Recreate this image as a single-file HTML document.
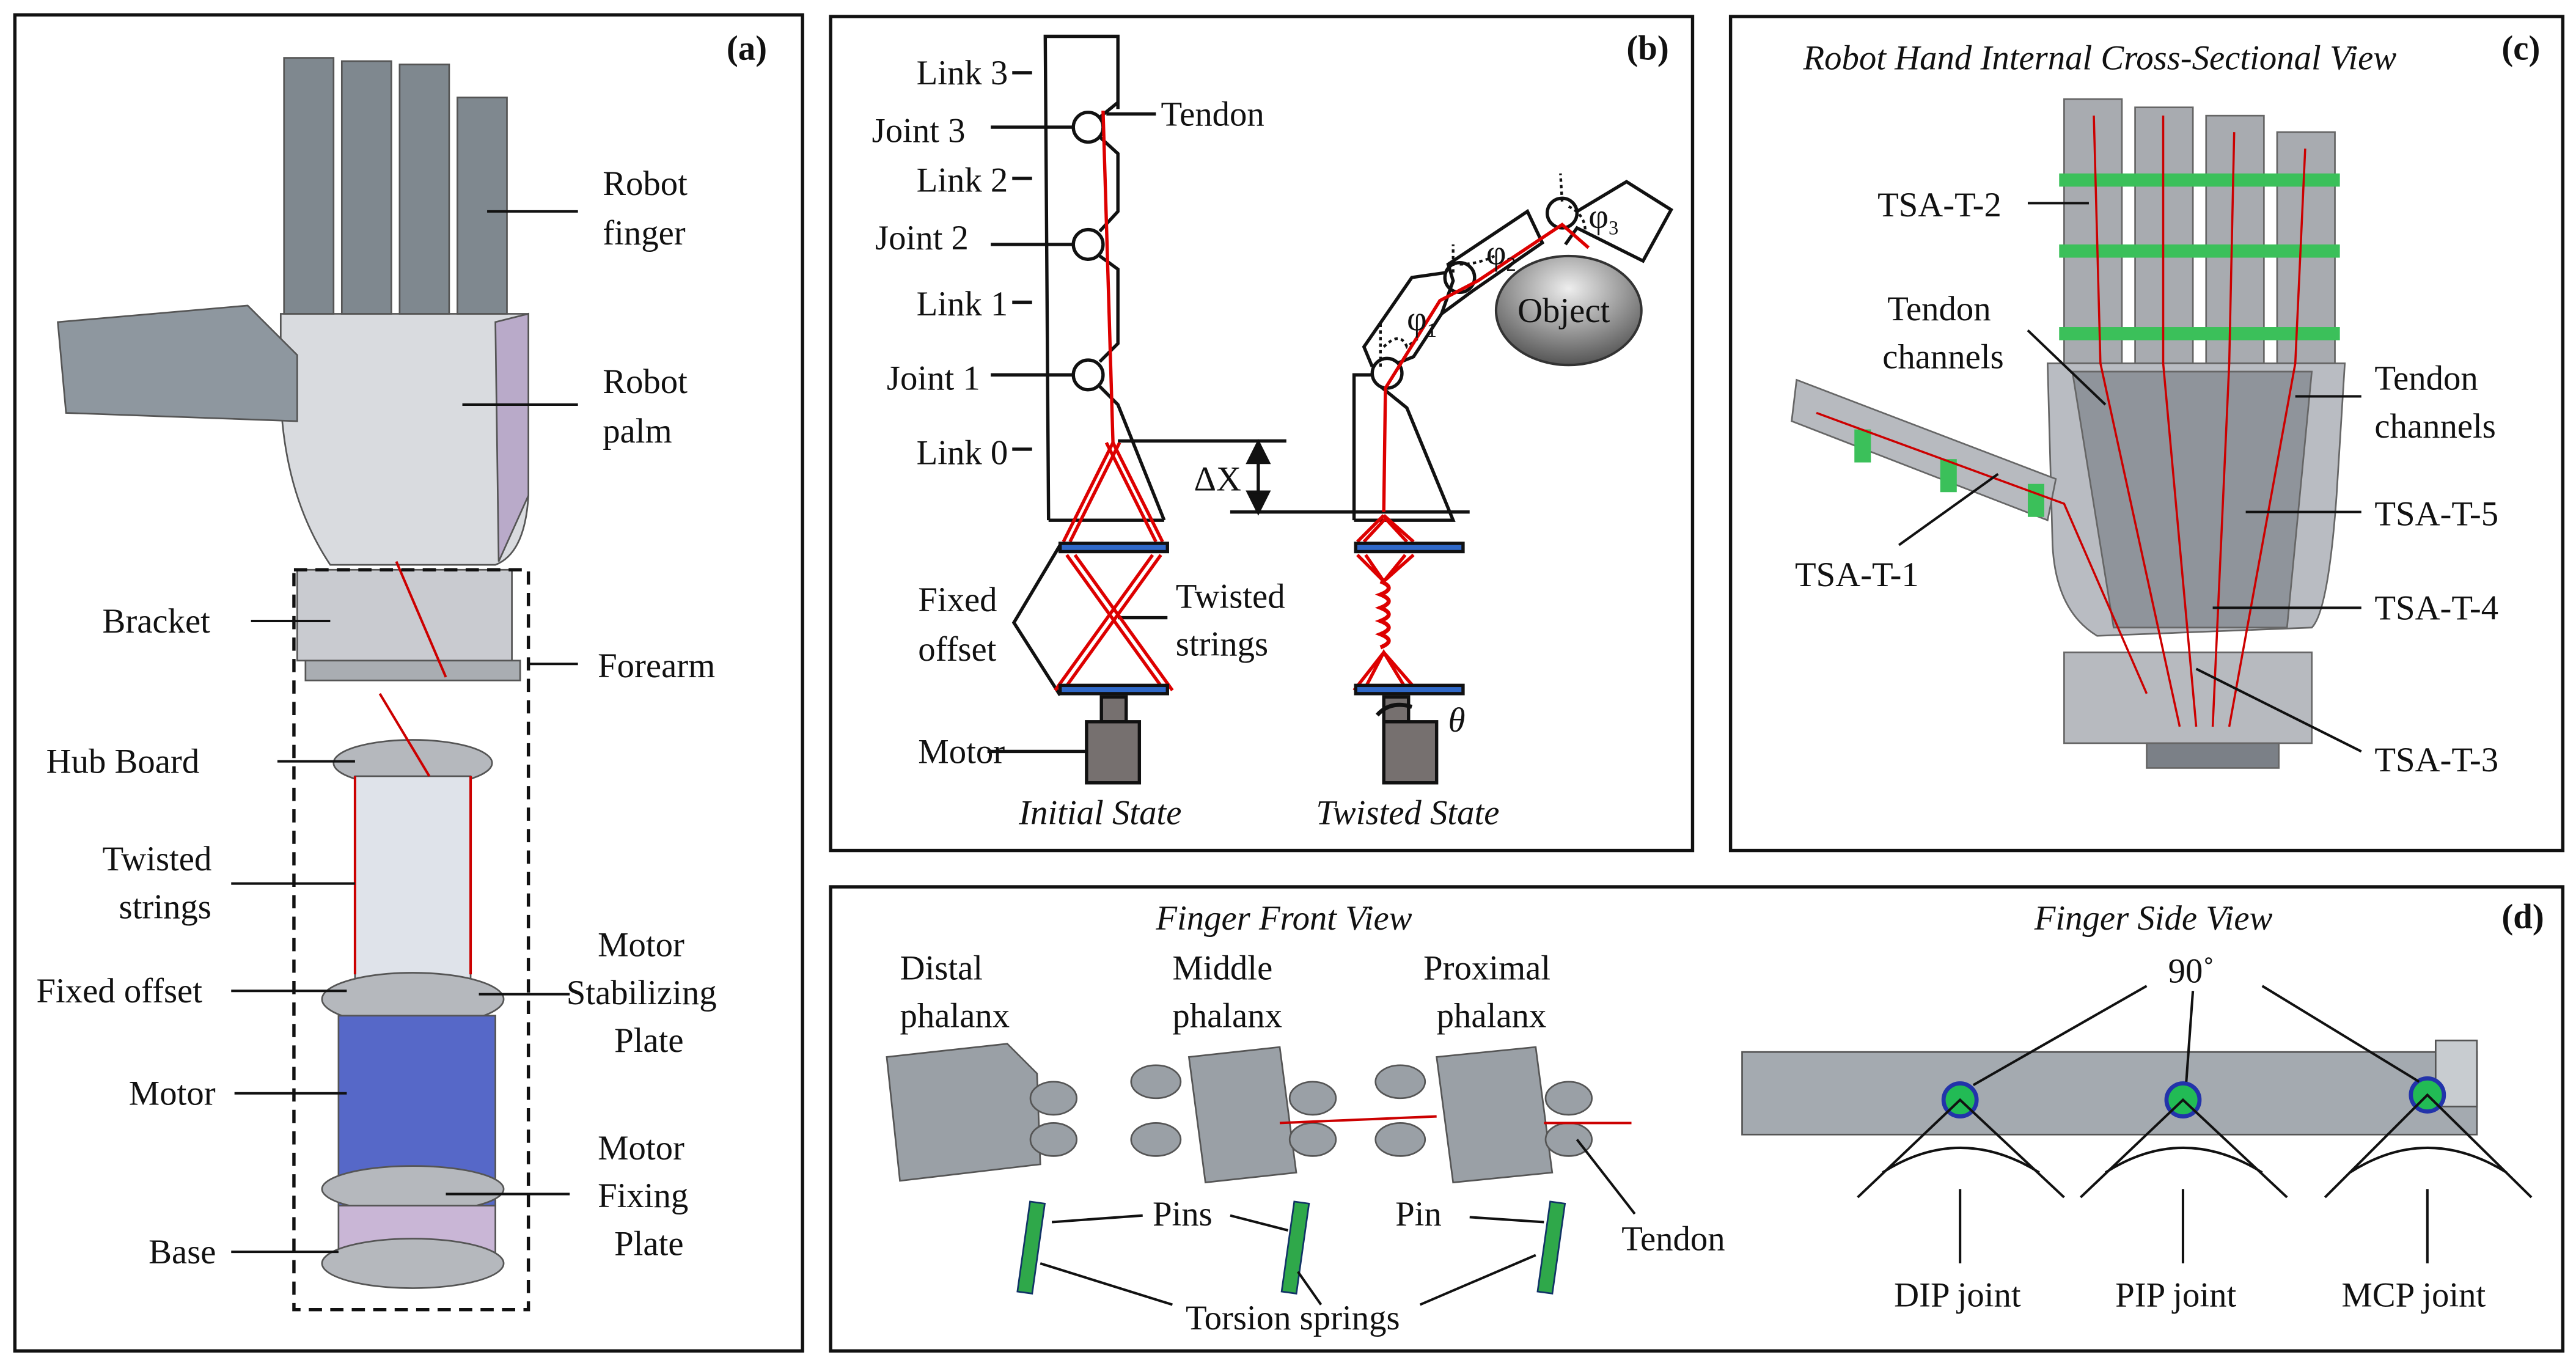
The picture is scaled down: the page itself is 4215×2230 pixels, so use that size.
<!DOCTYPE html>
<html><head><meta charset="utf-8"><style>
html,body{margin:0;padding:0;background:#fff;width:4215px;height:2230px;overflow:hidden}
svg{display:block}
svg text{font-family:"Liberation Serif","DejaVu Serif","Times New Roman",serif;font-size:21px;fill:#111}
.it{font-style:italic}
</style></head><body>
<svg width="4215" height="2230" viewBox="0 0 1560 825.3" xmlns="http://www.w3.org/2000/svg" font-family="Liberation Serif, DejaVu Serif, serif">
<rect width="1560" height="826" fill="#fff"/>
<g fill="none" stroke="#111" stroke-width="2">
<rect x="9" y="9" width="477" height="809"/>
<rect x="503" y="10" width="522" height="505"/>
<rect x="1048" y="10" width="504" height="505"/>
<rect x="503" y="537" width="1049" height="281"/>
</g>
<g font-weight="bold"><text x="440" y="36" font-family="Liberation Serif, serif">(a)</text><text x="985" y="36" font-family="Liberation Serif, serif">(b)</text><text x="1515" y="36" font-family="Liberation Serif, serif">(c)</text><text x="1515" y="562" font-family="Liberation Serif, serif">(d)</text></g>

<!-- (a) robot hand -->
<g stroke="#555" stroke-width="1">
<path d="M170 190 L320 190 L320 300 Q318 335 300 342 L200 342 Q172 300 170 240Z" fill="#d9dbdf"/>
<path d="M300 195 L320 190 L320 300 L302 340Z" fill="#b9aac9"/>
<path d="M35 195 L150 185 L180 215 L180 255 L40 250Z" fill="#8e979f"/>
<rect x="172" y="35" width="30" height="155" fill="#7f888f"/>
<rect x="207" y="37" width="30" height="153" fill="#7f888f"/>
<rect x="242" y="39" width="30" height="151" fill="#7f888f"/>
<rect x="277" y="59" width="30" height="131" fill="#7f888f"/>
<rect x="180" y="345" width="130" height="55" fill="#c9cbd0"/>
<rect x="185" y="400" width="130" height="12" fill="#a9adb2"/>
<ellipse cx="250" cy="462" rx="48" ry="14" fill="#b5b8bd"/>
<rect x="215" y="470" width="70" height="125" fill="#dfe3ea"/>
<ellipse cx="250" cy="605" rx="55" ry="16" fill="#b5b8bd"/>
<rect x="205" y="615" width="95" height="115" fill="#5668c8"/>
<ellipse cx="250" cy="720" rx="55" ry="14" fill="#b5b8bd"/>
<rect x="205" y="730" width="95" height="30" fill="#c9b6d6"/>
<ellipse cx="250" cy="765" rx="55" ry="15" fill="#b5b8bd"/>
</g>
<g stroke="#c00" stroke-width="1.5"><line x1="215" y1="470" x2="215" y2="590"/><line x1="285" y1="470" x2="285" y2="590"/><line x1="230" y1="420" x2="260" y2="470"/><line x1="240" y1="340" x2="270" y2="410"/></g>
<rect x="178" y="345" width="142" height="448" fill="none" stroke="#111" stroke-width="2" stroke-dasharray="8,5"/>
<g stroke="#111" stroke-width="1.5">
<line x1="295" y1="128" x2="350" y2="128"/><line x1="280" y1="245" x2="350" y2="245"/>
<line x1="152" y1="376" x2="200" y2="376"/><line x1="320" y1="402" x2="350" y2="402"/>
<line x1="168" y1="461" x2="215" y2="461"/><line x1="140" y1="535" x2="215" y2="535"/>
<line x1="140" y1="600" x2="210" y2="600"/><line x1="290" y1="602" x2="345" y2="602"/>
<line x1="142" y1="662" x2="210" y2="662"/><line x1="270" y1="723" x2="345" y2="723"/>
<line x1="140" y1="758" x2="205" y2="758"/>
</g>
<text x="365" y="118">Robot</text><text x="365" y="148">finger</text>
<text x="365" y="238">Robot</text><text x="365" y="268">palm</text>
<text x="62" y="383">Bracket</text><text x="362" y="410">Forearm</text>
<text x="28" y="468">Hub Board</text>
<text x="62" y="527">Twisted</text><text x="72" y="556">strings</text>
<text x="22" y="607">Fixed offset</text>
<text x="362" y="579">Motor</text><text x="343" y="608">Stabilizing</text><text x="372" y="637">Plate</text>
<text x="78" y="669">Motor</text>
<text x="362" y="702">Motor</text><text x="362" y="731">Fixing</text><text x="372" y="760">Plate</text>
<text x="90" y="765">Base</text>

<!-- (b) -->
<g fill="none" stroke="#111" stroke-width="2">
<path d="M635 315 L633 22 L677 22 L677 66"/>
<path d="M635 315 L705 315"/>
<circle cx="659" cy="77" r="9"/><circle cx="659" cy="148" r="9"/><circle cx="659" cy="227" r="9"/>
<path d="M666 71 L677 62 M666 83 L677 93 L677 128 L666 140 M666 155 L677 163 L677 208 L666 219 M666 234 L677 245 L705 315"/>
<line x1="613" y1="44" x2="625" y2="44"/><line x1="600" y1="77" x2="650" y2="77"/>
<line x1="613" y1="108" x2="625" y2="108"/><line x1="600" y1="148" x2="650" y2="148"/>
<line x1="613" y1="183" x2="625" y2="183"/><line x1="600" y1="227" x2="650" y2="227"/>
<line x1="613" y1="272" x2="625" y2="272"/><line x1="670" y1="69" x2="700" y2="69"/>
<line x1="677" y1="267" x2="779" y2="267"/><line x1="745" y1="310" x2="890" y2="310"/>
<line x1="762" y1="272" x2="762" y2="306"/>
<path d="M642 330 L614 377 L642 421"/><line x1="677" y1="374" x2="707" y2="374"/>
<line x1="598" y1="455" x2="658" y2="455"/>
<path d="M820 315 L820 227 L831 227"/>
<path d="M836 234 L852 247 L880 315 L820 315"/>
<path d="M831 222 L826 210 L855 168 L876 165"/>
<path d="M846 220 L856 216 L873 190"/>
<path d="M873 190 L880 170 L877 160 L925 128 L934 147 L892 176 Z"/>
<path d="M955 128 L985 110 L1012 127 L995 158 L955 138 L948 148"/>
<circle cx="840" cy="226" r="9"/><circle cx="884" cy="168" r="9"/><circle cx="946" cy="129" r="9"/>
</g>
<g fill="none" stroke="#111" stroke-width="1.6" stroke-dasharray="2,2">
<path d="M836 222 L836 195 M838 210 Q848 200 852 210 L860 204"/>
<path d="M880 165 L880 148 M884 160 Q895 160 905 155"/>
<path d="M946 122 L945 105 M950 125 Q960 130 960 140"/>
</g>
<g stroke="#111" stroke-width="2"><polygon points="762,268 756,280 768,280" fill="#111"/><polygon points="762,310 756,298 768,298" fill="#111"/></g>
<g fill="none" stroke="#d00" stroke-width="2">
<line x1="668" y1="67" x2="674" y2="268"/>
<path d="M674 268 L644 328 M678 268 L648 328 M674 268 L704 328 M670 268 L700 328"/>
<path d="M646 336 L705 418 M651 336 L710 418 M703 336 L644 418 M698 336 L639 418"/>
<path d="M838 310 L839 235 L872 182 L895 170 L946 136 L962 150"/>
<path d="M838 312 L822 328 M838 312 L856 328 M839 314 L826 328 M839 314 L852 328"/>
<path d="M822 336 L838 352 L856 336 M827 336 L838 352 L851 336 M820 418 L838 395 L858 418 M826 418 L838 395 L852 418"/>
<path d="M836 352 Q846 356 836 360 Q846 364 836 368 Q846 372 836 376 Q846 380 836 384 Q846 388 836 392" stroke-width="2.5"/>
</g>
<g stroke="#111" stroke-width="2" fill="#2f68c8">
<rect x="642" y="329" width="65" height="5"/><rect x="642" y="415" width="65" height="5"/>
<rect x="821" y="329" width="65" height="5"/><rect x="821" y="415" width="65" height="5"/>
</g>
<g stroke="#111" stroke-width="2" fill="#76706f">
<rect x="667" y="422" width="15" height="15"/><rect x="658" y="437" width="32" height="37"/>
<rect x="838" y="422" width="15" height="15"/><rect x="838" y="437" width="32" height="37"/>
</g>
<path d="M855 428 Q842 424 834 433" fill="none" stroke="#111" stroke-width="2.5"/>
<defs><radialGradient id="g" cx=".5" cy=".3" r=".7"><stop offset="0" stop-color="#eee"/><stop offset="1" stop-color="#555"/></radialGradient></defs>
<ellipse cx="950" cy="188" rx="44" ry="33" fill="url(#g)" stroke="#333" stroke-width="1.5"/>
<text x="919" y="195">Object</text>
<text x="555" y="51">Link 3</text><text x="528" y="86">Joint 3</text>
<text x="555" y="116">Link 2</text><text x="530" y="151">Joint 2</text>
<text x="555" y="191">Link 1</text><text x="537" y="236">Joint 1</text>
<text x="555" y="281">Link 0</text><text x="703" y="76">Tendon</text>
<text x="723" y="297">ΔX</text>
<text x="556" y="370">Fixed</text><text x="556" y="400">offset</text>
<text x="712" y="368">Twisted</text><text x="712" y="397">strings</text>
<text x="556" y="462">Motor</text><text x="877" y="443" class="it">θ</text>
<text x="617" y="499" class="it">Initial State</text><text x="797" y="499" class="it">Twisted State</text>
<text x="852" y="200" font-size="18">φ<tspan font-size="12" dy="4">1</tspan></text><text x="900" y="160" font-size="18">φ<tspan font-size="12" dy="4">2</tspan></text><text x="962" y="138" font-size="18">φ<tspan font-size="12" dy="4">3</tspan></text>

<!-- (c) -->
<text x="1092" y="42" class="it">Robot Hand Internal Cross-Sectional View</text>
<g stroke="#666" stroke-width="1">
<rect x="1250" y="60" width="35" height="160" fill="#a8abb0"/>
<rect x="1293" y="65" width="35" height="155" fill="#a8abb0"/>
<rect x="1336" y="70" width="35" height="150" fill="#a8abb0"/>
<rect x="1379" y="80" width="35" height="140" fill="#a8abb0"/>
<path d="M1240 220 L1420 220 L1415 300 Q1410 370 1400 380 L1270 385 Q1245 370 1243 330Z" fill="#b9bcc2"/>
<path d="M1255 225 L1400 225 L1385 380 L1280 380Z" fill="#8f949b"/>
<path d="M1088 230 L1245 290 L1240 315 L1085 255Z" fill="#b7babf"/>
<rect x="1250" y="395" width="150" height="55" fill="#b7babf"/>
<rect x="1300" y="450" width="80" height="15" fill="#7b8087"/>
</g>
<g fill="#3bc05a"><rect x="1247" y="105" width="170" height="8"/><rect x="1247" y="148" width="170" height="8"/><rect x="1247" y="198" width="170" height="8"/><rect x="1123" y="260" width="10" height="20"/><rect x="1175" y="278" width="10" height="20"/><rect x="1228" y="293" width="10" height="20"/></g>
<g stroke="#c00" stroke-width="1.3" fill="none"><path d="M1268 70 L1272 220 L1320 440 M1310 70 L1310 220 L1330 440 M1353 80 L1350 220 L1340 440 M1396 90 L1390 220 L1350 440 M1100 250 L1250 305 L1300 420"/></g>
<g stroke="#111" stroke-width="1.5">
<line x1="1228" y1="123" x2="1265" y2="123"/><line x1="1228" y1="200" x2="1275" y2="245"/>
<line x1="1390" y1="240" x2="1430" y2="240"/><line x1="1360" y1="310" x2="1430" y2="310"/>
<line x1="1340" y1="368" x2="1430" y2="368"/><line x1="1330" y1="405" x2="1430" y2="455"/>
<line x1="1150" y1="330" x2="1210" y2="287"/>
</g>
<text x="1137" y="131">TSA-T-2</text><text x="1143" y="194">Tendon</text><text x="1140" y="223">channels</text>
<text x="1438" y="236">Tendon</text><text x="1438" y="265">channels</text>
<text x="1438" y="318">TSA-T-5</text><text x="1438" y="375">TSA-T-4</text><text x="1438" y="467">TSA-T-3</text>
<text x="1087" y="355">TSA-T-1</text>

<!-- (d) -->
<text x="700" y="563" class="it">Finger Front View</text><text x="1232" y="563" class="it">Finger Side View</text>
<text x="545" y="593">Distal</text><text x="545" y="622">phalanx</text>
<text x="710" y="593">Middle</text><text x="710" y="622">phalanx</text>
<text x="862" y="593">Proximal</text><text x="870" y="622">phalanx</text>
<g stroke="#555" stroke-width="1" fill="#9aa0a6">
<path d="M537 640 L610 632 L628 650 L630 705 L545 715 Z"/>
<ellipse cx="638" cy="665" rx="14" ry="10"/><ellipse cx="638" cy="690" rx="14" ry="10"/>
<path d="M720 640 L775 634 L785 710 L730 716 Z"/>
<ellipse cx="700" cy="655" rx="15" ry="10"/><ellipse cx="700" cy="690" rx="15" ry="10"/><ellipse cx="795" cy="665" rx="14" ry="10"/><ellipse cx="795" cy="690" rx="14" ry="10"/>
<path d="M870 640 L930 634 L940 710 L880 716 Z"/>
<ellipse cx="848" cy="655" rx="15" ry="10"/><ellipse cx="848" cy="690" rx="15" ry="10"/><ellipse cx="950" cy="665" rx="14" ry="10"/><ellipse cx="950" cy="690" rx="14" ry="10"/>
<rect x="1055" y="637" width="445" height="50" fill="#a4aab0"/>
<rect x="1475" y="630" width="25" height="40" fill="#c8ccd0"/>
</g>
<g stroke="#c00" stroke-width="1.5"><line x1="775" y1="680" x2="870" y2="676"/><line x1="935" y1="680" x2="988" y2="680"/></g>
<g fill="#2fa84a" stroke="#136" stroke-width="1"><rect x="620" y="728" width="9" height="55" transform="rotate(8 625 755)"/><rect x="780" y="728" width="9" height="55" transform="rotate(8 785 755)"/><rect x="935" y="728" width="9" height="55" transform="rotate(8 940 755)"/></g>
<g fill="#22bb55" stroke="#2233aa" stroke-width="2.5"><circle cx="1187" cy="666" r="10"/><circle cx="1322" cy="666" r="10"/><circle cx="1470" cy="663" r="10"/></g>
<g fill="none" stroke="#111" stroke-width="1.5">
<path d="M1125 725 L1187 666 L1250 725 M1140 710 Q1187 680 1235 710"/>
<path d="M1260 725 L1322 666 L1385 725 M1275 710 Q1322 680 1370 710"/>
<path d="M1408 725 L1470 663 L1533 725 M1423 710 Q1470 680 1518 710"/>
<line x1="1187" y1="765" x2="1187" y2="720"/><line x1="1322" y1="765" x2="1322" y2="720"/><line x1="1470" y1="765" x2="1470" y2="720"/>
<line x1="1300" y1="597" x2="1195" y2="657"/><line x1="1328" y1="600" x2="1324" y2="655"/><line x1="1370" y1="597" x2="1465" y2="655"/>
<line x1="637" y1="740" x2="692" y2="736"/><line x1="745" y1="736" x2="780" y2="745"/><line x1="890" y1="737" x2="935" y2="740"/>
<line x1="710" y1="790" x2="630" y2="765"/><line x1="800" y1="790" x2="786" y2="770"/><line x1="860" y1="790" x2="930" y2="760"/>
<line x1="955" y1="690" x2="990" y2="735"/>
</g>
<text x="1313" y="595">90˚</text>
<text x="698" y="742">Pins</text><text x="845" y="742">Pin</text><text x="982" y="757">Tendon</text>
<text x="718" y="805">Torsion springs</text>
<text x="1147" y="791">DIP joint</text><text x="1281" y="791">PIP joint</text><text x="1418" y="791">MCP joint</text>
</svg>
</body></html>
